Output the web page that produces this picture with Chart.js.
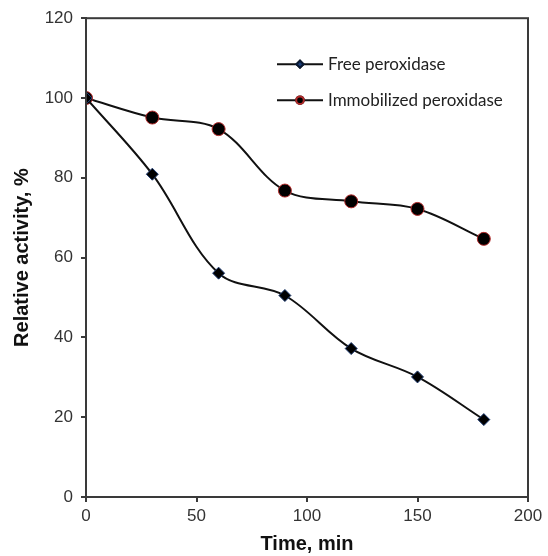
<!DOCTYPE html>
<html>
<head>
<meta charset="utf-8">
<script src="https://cdn.jsdelivr.net/npm/chart.js@4.4.0/dist/chart.umd.min.js"></script>
<style>
  html, body { margin: 0; padding: 0; background: #fff; }
</style>
</head>
<body>
<canvas id="myChart" width="548" height="556"></canvas>
<script>
// data
const timeMin = [0, 30, 60, 90, 120, 150, 180];
const freeActivity = [100, 80.9, 56.1, 50.5, 37.2, 30.1, 19.4];
const immobilizedActivity = [100, 95.1, 92.2, 76.8, 74.1, 72.2, 64.7];
const seriesLabels = ["Free peroxidase", "Immobilized peroxidase"];
const xTicks = [0, 50, 100, 150, 200];
const yTicks = [0, 20, 40, 60, 80, 100, 120];

const axisColor = "#3a3a3a";
const textColor = "#333";

// frame around the plot area
const boxPlugin = {
    id: "box",
    afterDraw(chart) {
        const { ctx, chartArea: a } = chart;
        ctx.save();
        ctx.strokeStyle = axisColor;
        ctx.lineWidth = 2;
        ctx.strokeRect(a.left, a.top, a.right - a.left, a.bottom - a.top);
        ctx.restore();
    }
};

// legend inside the plot, line + small marker like the original
const insideLegend = {
    id: "insideLegend",
    afterDraw(chart) {
        const { ctx, chartArea: a } = chart;
        const x0 = a.left + 191;
        chart.data.datasets.forEach((ds, i) => {
            const y = a.top + 46 + i * 36;
            ctx.save();
            ctx.strokeStyle = "#111";
            ctx.lineWidth = 2;
            ctx.beginPath();
            ctx.moveTo(x0, y);
            ctx.lineTo(x0 + 46, y);
            ctx.stroke();
            Chart.helpers.drawPoint(ctx, {
                pointStyle: ds.pointStyle,
                radius: i === 0 ? 3.5 : 3.8,
                borderWidth: 1
            }, x0 + 23, y);
            ctx.fillStyle = i === 0 ? "#1d3f7a" : "#000";
            ctx.strokeStyle = i === 0 ? "#0b1a33" : "#b02a2a";
            ctx.fill();
            ctx.stroke();
            ctx.fillStyle = "#222";
            ctx.font = "17px Lato, 'Liberation Sans', sans-serif";
            ctx.textBaseline = "middle";
            ctx.fillText(ds.label, x0 + 51, y);
            ctx.restore();
        });
    }
};

const ctx = document.querySelector("#myChart").getContext("2d");

new Chart(ctx, {
    type: "line",
    data: {
        datasets: [{
            label: seriesLabels[0],
            data: timeMin.map((t, i) => ({ x: t, y: freeActivity[i] })),
            borderColor: "#111",
            borderWidth: 2,
            tension: 0.35,
            pointStyle: "rectRot",
            pointRadius: 6,
            pointBackgroundColor: "#000",
            pointBorderColor: "#1d3a70",
            pointBorderWidth: 1
        }, {
            label: seriesLabels[1],
            data: timeMin.map((t, i) => ({ x: t, y: immobilizedActivity[i] })),
            borderColor: "#111",
            borderWidth: 2,
            tension: 0.35,
            pointStyle: "circle",
            pointRadius: 6.5,
            pointBackgroundColor: "#000",
            pointBorderColor: "#b32a2a",
            pointBorderWidth: 1
        }]
    },
    options: {
        responsive: false,
        animation: false,
        layout: { padding: { top: 16, right: 20, left: 0, bottom: 0 } },
        plugins: {
            legend: { display: false },
            tooltip: { enabled: false }
        },
        scales: {
            x: {
                type: "linear",
                min: 0,
                max: 200,
                afterBuildTicks: s => { s.ticks = xTicks.map(v => ({ value: v })); },
                afterFit: s => { s.height = 59; },
                grid: { drawOnChartArea: false, drawTicks: true, tickLength: 5, color: axisColor, lineWidth: 2 },
                border: { color: axisColor, width: 2 },
                ticks: { color: textColor, padding: 4, font: { family: "'Liberation Sans', Arial", size: 17 } },
                title: {
                    display: true,
                    text: "Time, min",
                    color: "#111",
                    padding: { top: 0, bottom: 0 },
                    font: { family: "'Liberation Sans', Arial", size: 20, weight: "bold" }
                }
            },
            y: {
                min: 0,
                max: 120,
                afterBuildTicks: s => { s.ticks = yTicks.map(v => ({ value: v })); },
                afterFit: s => { s.width = 86; },
                grid: { drawOnChartArea: false, drawTicks: true, tickLength: 5, color: axisColor, lineWidth: 2 },
                border: { color: axisColor, width: 2 },
                ticks: { color: textColor, padding: 8, font: { family: "'Liberation Sans', Arial", size: 17 } },
                title: {
                    display: true,
                    text: "Relative activity, %",
                    color: "#111",
                    padding: { top: 10, bottom: 0 },
                    font: { family: "'Liberation Sans', Arial", size: 20, weight: "bold" }
                }
            }
        }
    },
    plugins: [boxPlugin, insideLegend]
});
</script>
</body>
</html>
